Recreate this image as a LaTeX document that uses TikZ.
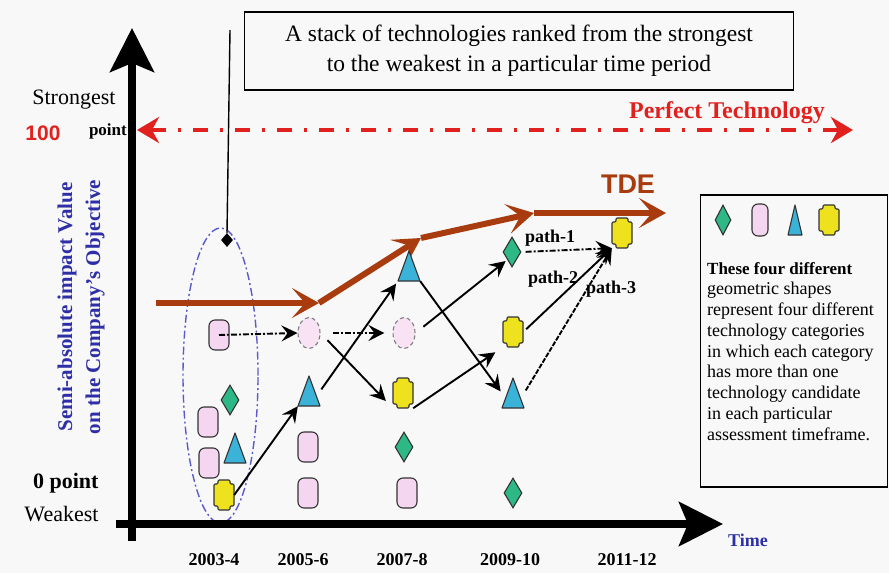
\documentclass[tikz,border=0pt]{standalone}
\usepackage{fontspec}
\setmainfont{Liberation Serif}
\newfontfamily\headsans{Liberation Sans}
\usetikzlibrary{arrows.meta,shapes.geometric,calc}

\definecolor{bgpaper}{HTML}{F8F8F8}
\definecolor{techpink}{HTML}{F5D6F0}
\definecolor{techgreen}{HTML}{2DB885}
\definecolor{techblue}{HTML}{3BB3D9}
\definecolor{techyellow}{HTML}{EEE21E}
\definecolor{tdebrown}{HTML}{A83C0E}
\definecolor{perfred}{HTML}{E0211E}
\definecolor{labelblue}{HTML}{2E2EA6}
\definecolor{stackblue}{HTML}{5A5ACC}
\definecolor{edgegray}{HTML}{333333}

\newcommand\fs[2]{\fontsize{#1}{#2}\selectfont}

% yellow technology: notched block
\newcommand\ytech[2]{%
  \node[techslot,minimum width=20pt,minimum height=30pt] (#1) at (#2) {};
  \draw[yellowbody,shift={(#1.center)}] (-6,-15) -- (6,-15) -- (6,-11) -- (10,-11)
    -- (10,11) -- (6,11) -- (6,15) -- (-6,15) -- (-6,11) -- (-10,11) -- (-10,-11)
    -- (-6,-11) -- cycle;}
% blue technology: triangle, optional half base width
\newcommand\ttech[3][11]{%
  \node[techslot,minimum width=22pt,minimum height=30pt] (#2) at (#3) {};
  \draw[bluebody,shift={(#2.center)}] (0,-15) -- (#1,15) -- (-#1,15) -- cycle;}

\tikzset{
  techslot/.style={rectangle,inner sep=0pt,draw=none},
  yellowbody/.style={fill=techyellow,draw=edgegray,line width=1.1pt,rounded corners=1.2pt},
  bluebody/.style={fill=techblue,draw=edgegray,line width=1.1pt,line join=round},
  pinktech/.style={rectangle,rounded corners=6pt,inner sep=0pt,minimum width=20pt,
    minimum height=30pt,fill=techpink,draw=edgegray,line width=1.1pt},
  pinkghost/.style={ellipse,inner sep=0pt,minimum width=22pt,minimum height=31pt,
    fill=techpink!70,draw=gray,line width=1.1pt,dash pattern=on 4pt off 3pt},
  greentech/.style={diamond,inner sep=0pt,minimum width=18pt,minimum height=30pt,
    fill=techgreen,draw=edgegray,line width=1.1pt},
  link/.style={line width=1.9pt,-{Stealth[length=16pt,width=16pt,inset=6pt]}},
  linkdd/.style={link,dash pattern=on 6pt off 2pt on 2pt off 2pt},
  axis/.style={line width=7.5pt,-{Stealth[length=44pt,width=44pt,inset=9pt]}},
  tde/.style={tdebrown,line width=6pt,line join=round,
    -{Stealth[length=27pt,width=30pt,inset=13pt]}},
  perfect/.style={perfred,line width=4pt,dash pattern=on 15pt off 12pt on 3pt off 12pt,
    {Stealth[length=22pt,width=26pt,inset=7pt]}-{Stealth[length=22pt,width=26pt,inset=7pt]}},
  yearlbl/.style={font=\bfseries\fs{18}{20}},
  pathlbl/.style={font=\bfseries\fs{18}{20},inner sep=1pt},
}

\begin{document}
\begin{tikzpicture}[x=1pt,y=-1pt]
\useasboundingbox (0,0) rectangle (889,573);
\fill[bgpaper] (0,0) rectangle (889,573);

% caption box and its pointer into the stack
\node[draw,line width=1.4pt,minimum width=549pt,minimum height=78pt,align=center,
  font=\fs{23.5}{30}] (caption) at (519,51)
  {A stack of technologies ranked from the strongest\\to the weakest in a particular time period};
\coordinate (ptop) at (230,30);

% the stack of one time period
\node[ellipse,draw=stackblue,line width=1.4pt,dash pattern=on 8pt off 3pt on 2pt off 3pt,
  minimum width=75pt,minimum height=295pt] (stack) at (220.5,375.5) {};
\node[diamond,fill=black,inner sep=0pt,minimum width=12pt,minimum height=14pt] (ptr) at (227,240) {};
\draw[line width=1.4pt] (ptop) -- (ptr.north);

% axes
\coordinate (yB) at (132,541);
\coordinate (yT) at (132,28);
\coordinate (xL) at (116,524);
\coordinate (xR) at (723,524);
\draw[axis] (yB) -- (yT);
\draw[axis] (xL) -- (xR);

% perfect technology level
\coordinate (pL) at (137,130);
\coordinate (pR) at (853,130);
\draw[perfect] (pL) -- (pR);
\node[perfred,font=\bfseries\fs{24}{26}] (perf) at (727,113) {Perfect Technology};

% axis labels
\node[anchor=east,font=\fs{22}{24}] (strong) at (119,100) {Strongest};
\node[perfred,font=\headsans\bfseries\fs{21}{24}] (hundred) at (43,133) {100};
\node[anchor=east,font=\bfseries\fs{17}{20},inner sep=0pt] (pt100) at (127,131) {point};
\node[anchor=east,font=\bfseries\fs{22}{24}] (zero) at (102,483) {0 point};
\node[anchor=east,font=\fs{22}{24}] (weak) at (102,514) {Weakest};
\node[labelblue,rotate=90,align=center,font=\bfseries\fs{21}{28}] (ylabel) at (81,307)
  {Semi-absolute impact Value\\on the Company's Objective};
\node[yearlbl] (yr1) at (214,560) {2003-4};
\node[yearlbl] (yr2) at (303,560) {2005-6};
\node[yearlbl] (yr3) at (402,560) {2007-8};
\node[yearlbl] (yr4) at (510,560) {2009-10};
\node[yearlbl] (yr5) at (627,560) {2011-12};
\node[labelblue,font=\bfseries\fs{18}{20}] (time) at (748,540) {Time};

% technology development envelope
\coordinate (t0) at (156,303);
\coordinate (t1) at (319,303);
\coordinate (t2) at (421,238);
\coordinate (t3) at (534,213);
\coordinate (t4) at (666,213);
\draw[tde] (t0) -- (t1);
\draw[tde] (t1) -- (t2);
\draw[tde] (t2) -- (t3);
\draw[tde] (t3) -- (t4);
\node[tdebrown,font=\headsans\bfseries\fs{27}{30}] (tdelbl) at (628,184) {TDE};

% 2003-4
\node[pinktech] (c1a) at (219,335) {};
\node[greentech] (c1b) at (230,400) {};
\node[pinktech] (c1c) at (208,422) {};
\ttech{c1d}{235,448}
\node[pinktech] (c1e) at (209,463) {};
\ytech{c1f}{224,495}
% 2005-6
\node[pinkghost] (c2a) at (309,333) {};
\ttech{c2b}{309,391}
\node[pinktech] (c2c) at (308,447) {};
\node[pinktech] (c2d) at (308,493) {};
% 2007-8
\ttech{c3a}{409,266}
\node[pinkghost] (c3b) at (404,333) {};
\ytech{c3c}{403,393}
\node[greentech] (c3d) at (404,447) {};
\node[pinktech] (c3e) at (407,493) {};
% 2009-10
\node[greentech] (c4a) at (512,252) {};
\ytech{c4b}{513,332}
\ttech{c4c}{513,393}
\node[greentech] (c4d) at (513,493) {};
% 2011-12
\ytech{c5a}{622,233}

% transitions between periods
\draw[linkdd] (c1a.center) -- (c2a.west);
\draw[linkdd,shorten <=12pt,shorten >=8pt] (c2a.east) -- (c3b.west);
\draw[link] (c1f.east) -- (c2b.south west);
\draw[link,shorten <=2pt,shorten >=3pt] (c2b.east) -- (c3a.south west);
\draw[link,shorten <=10pt,shorten >=10pt] (c2a.east) -- (c3c.south west);
\draw[link,shorten <=10pt,shorten >=2pt] (c3b.east) -- (c4a.south west);
\draw[link,shorten >=2pt] (c3a.south east) -- (c4c.west);
\draw[link,shorten >=9pt] (c3c.south east) -- (c4b.south west);
\draw[linkdd,shorten <=4pt] (c4a.east) -- (c5a.south west);
\draw[link,shorten <=4pt] (c4b.east) -- (c5a.south west);
\draw[link,dash pattern=on 5pt off 1.5pt,shorten <=3pt] (c4c.east) -- (c5a.south west);
\node[pathlbl] (p1) at (550,238) {path-1};
\node[pathlbl] (p2) at (553,279) {path-2};
\node[pathlbl] (p3) at (611,289) {path-3};

% legend
\node[draw,line width=1.4pt,minimum width=187pt,minimum height=292pt] (legend) at (794,341) {};
\node[greentech,minimum width=16pt] (lg1) at (723,220) {};
\node[pinktech,minimum width=16pt,minimum height=32pt] (lg2) at (760,220) {};
\ttech[7]{lg3}{795,220}
\ytech{lg4}{829,220}
\node[anchor=north west,align=left,inner sep=0pt,font=\fs{18}{20.75}] (legtext) at (707,262)
  {{\bfseries\fs{17}{20.75}These four different}\\
   geometric shapes\\
   represent four different\\
   technology categories\\
   in which each category\\
   has more than one\\
   technology candidate\\
   in each particular\\
   assessment timeframe.};
\end{tikzpicture}
\end{document}
